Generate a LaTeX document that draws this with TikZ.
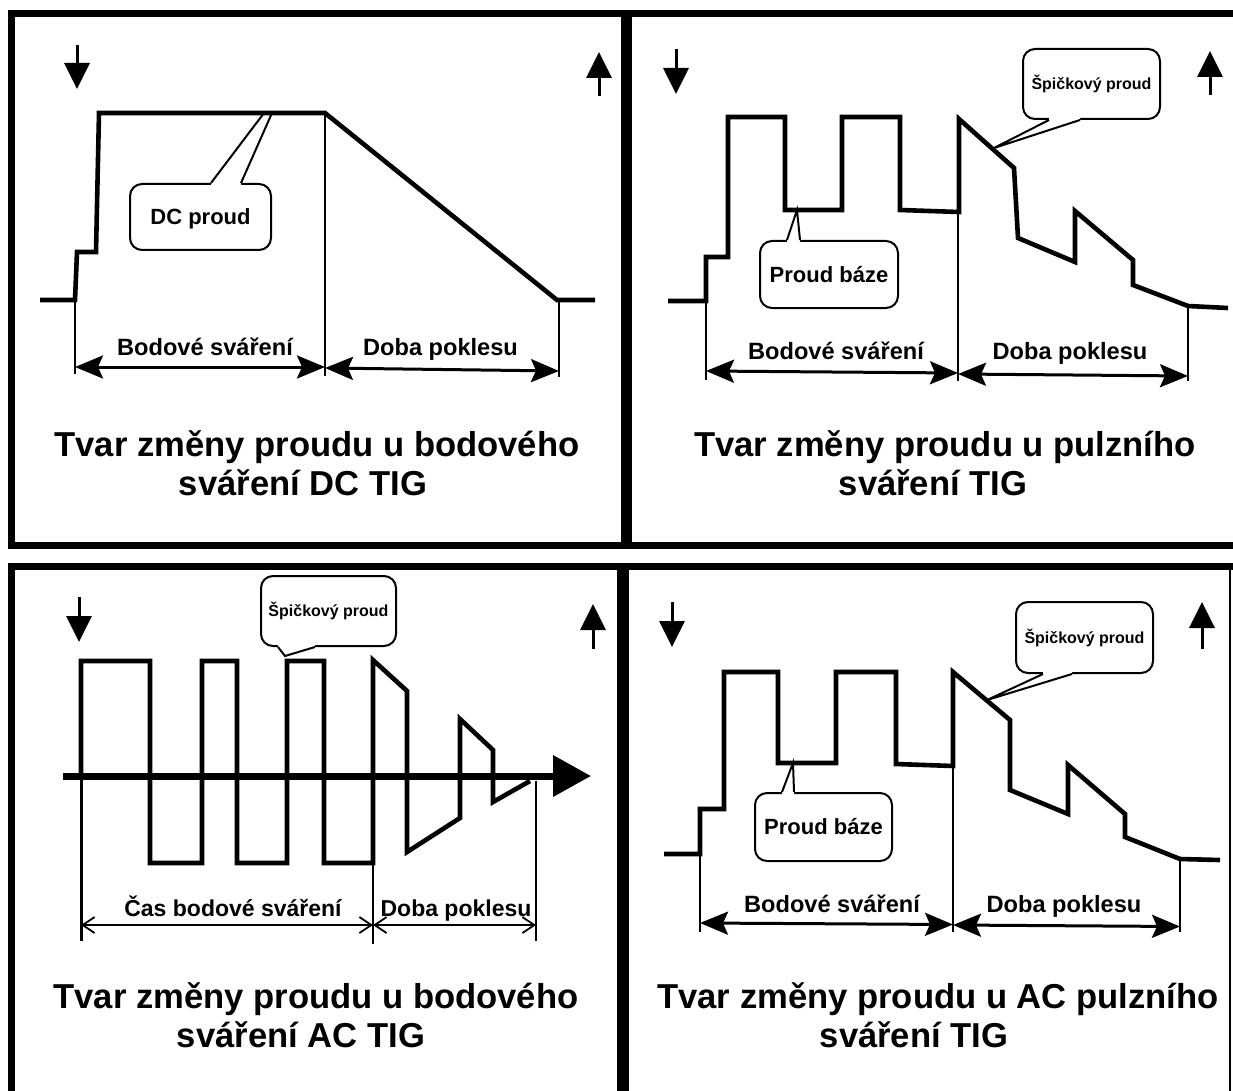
\documentclass[tikz,border=0pt]{standalone}
\usepackage{fontspec}
\setmainfont{Liberation Sans}
\usetikzlibrary{arrows.meta,calc}
\begin{document}
\begin{tikzpicture}[x=1pt,y=-1pt,
  frame/.style={line width=7pt},
  wave/.style={line width=4.6pt},
  guide/.style={line width=2pt},
  dimline/.style={line width=3pt,{Stealth[length=28pt,width=23pt,inset=5pt]}-{Stealth[length=28pt,width=23pt,inset=5pt]}},
  thindim/.style={line width=1.8pt,{Straight Barb[length=12pt,width=16pt]}-{Straight Barb[length=12pt,width=16pt]}},
  indic/.style={line width=3pt,-{Triangle[length=26pt,width=25pt]}},
  callout/.style={draw,line width=2pt,rounded corners=12pt,fill=white,inner sep=0pt},
  calltxt/.style={callout,font=\fontsize{22}{26}\selectfont\bfseries,text height=15.8pt,text depth=0pt},
  callsm/.style={callout,font=\fontsize{16}{19}\selectfont\bfseries,text height=11.5pt,text depth=0pt},
  tail/.style={line width=2pt},
  title/.style={font=\fontsize{34.6}{40}\selectfont\bfseries,anchor=base,inner sep=0pt},
  lab/.style={font=\fontsize{23.6}{28}\selectfont\bfseries,anchor=base,inner sep=0pt},
  labsm/.style={font=\fontsize{23}{28}\selectfont\bfseries,anchor=base,inner sep=0pt},
]
\useasboundingbox (0,0) rectangle (1233,1091);
\fill[white] (0,0) rectangle (1233,1091);

% ---------------- frames ----------------
\draw[frame] (8,13.5) -- (1233,13.5);
\draw[frame] (11.5,10) -- (11.5,548.5);
\draw[frame] (8,545) -- (1233,545);
\draw[line width=11.5pt] (626.5,10) -- (626.5,548.5);
\draw[frame] (8,566.5) -- (1233,566.5);
\draw[frame] (11.5,563) -- (11.5,1091);
\draw[line width=12pt] (623,563) -- (623,1091);
\draw[line width=2pt] (1230,566) -- (1230,1091);

% ================= TOP LEFT =================
\draw[indic] (77,45) -- (77,89);
\draw[indic] (599,96) -- (599,52);
\node[calltxt,minimum width=141pt,minimum height=66pt] (dc) at (200.5,217) {DC proud};
\coordinate (dcb1) at ($(dc.north west)+(82,0)$);
\coordinate (dcb2) at ($(dc.north west)+(112,0)$);
\coordinate (dcp1) at (264,113);
\coordinate (dcp2) at (272,113);
\fill[white] ($(dcb1)+(0,3)$) -- (dcb1) -- (dcp1) -- (dcp2) -- (dcb2) -- ($(dcb2)+(0,3)$) -- cycle;
\draw[tail] (dcb1) -- (dcp1) (dcb2) -- (dcp2);
\draw[wave] (40,300) -- (75,300) -- (77,252) -- (96,252) -- (99,113) -- (325,113) -- (557,300) -- (595,300);
\draw[guide] (75,300) -- (75,374);
\draw[guide] (325,113) -- (325,376);
\draw[guide] (559,300) -- (559,377);
\draw[dimline] (75,367) -- (325,367);
\draw[dimline] (325,368) -- (559,371);
\node[lab] (tlA) at (205,355) {Bodové sváření};
\node[lab] (tlB) at (440.5,355) {Doba poklesu};
\node[title] (tlT1) at (317,456) {Tvar změny proudu u bodového};
\node[title] (tlT2) at (303,495) {sváření DC TIG};

% ================= TOP RIGHT =================
\draw[indic] (676,49) -- (676,94);
\draw[indic] (1210,95) -- (1210,51);
\node[calltxt,minimum width=138pt,minimum height=67pt] (trb) at (829,274.5) {Proud báze};
\coordinate (trb1) at ($(trb.north west)+(28,0)$);
\coordinate (trb2) at ($(trb.north west)+(41,0)$);
\coordinate (trbp) at (797,210);
\fill[white] ($(trb1)+(0,3)$) -- (trb1) -- (trbp) -- (trb2) -- ($(trb2)+(0,3)$) -- cycle;
\draw[tail] (trb1) -- (trbp) -- (trb2);
\node[callsm,minimum width=137pt,minimum height=70pt] (trs) at (1091.5,84) {Špičkový proud};
\coordinate (trs1) at ($(trs.south west)+(27,0)$);
\coordinate (trs2) at ($(trs.south west)+(58,0)$);
\coordinate (trsp) at (994,148);
\fill[white] ($(trs1)+(0,-3)$) -- (trs1) -- (trsp) -- (trs2) -- ($(trs2)+(0,-3)$) -- cycle;
\draw[tail] (trs1) -- (trsp) -- (trs2);
\draw[wave] (668,301) -- (706,301) -- (706,257) -- (728,257) -- (728,117) -- (785,117) -- (785,210) -- (842,210) -- (842,117) -- (900,117) -- (900,210) -- (959,212) -- (959,119) -- (1014,168) -- (1018,238) -- (1075,262) -- (1075,211) -- (1133,260) -- (1133,285) -- (1188,306) -- (1228,308);
\draw[guide] (706,301) -- (706,380);
\draw[guide] (958,212) -- (958,381);
\draw[guide] (1188,306) -- (1188,381);
\draw[dimline] (706,371) -- (958,373);
\draw[dimline] (958,374) -- (1188,376);
\node[lab] (trA) at (836,359) {Bodové sváření};
\node[lab] (trB) at (1070,359) {Doba poklesu};
\node[title] (trT1) at (945,456) {Tvar změny proudu u pulzního};
\node[title] (trT2) at (933,495) {sváření TIG};

% ================= BOTTOM LEFT =================
\draw[indic] (79,597) -- (79,642);
\draw[indic] (593,649) -- (593,604);
\node[callsm,minimum width=135pt,minimum height=70pt] (bls) at (328.5,611) {Špičkový proud};
\coordinate (bls1) at ($(bls.south west)+(18,0)$);
\coordinate (bls2) at ($(bls.south west)+(55,0)$);
\coordinate (blsp) at (285,656);
\fill[white] ($(bls1)+(0,-3)$) -- (bls1) -- (blsp) -- (bls2) -- ($(bls2)+(0,-3)$) -- cycle;
\draw[tail] (bls1) -- (blsp) -- (bls2);
\draw[wave] (81,776) -- (81,661) -- (150,661) -- (150,863) -- (202,863) -- (202,661) -- (237,661) -- (237,863) -- (287,863) -- (287,661) -- (324,661) -- (324,863) -- (373,863) -- (373,660) -- (407,691) -- (407,852) -- (460,818) -- (460,719) -- (493,750) -- (493,802) -- (530,781);
\draw[line width=7pt,-{Triangle[length=38pt,width=40pt]}] (63,776) -- (591,776);
\draw[line width=3pt] (81,776) -- (81,941);
\draw[line width=2.5pt] (373,863) -- (373,944);
\draw[guide] (536,781) -- (536,941);
\draw[thindim] (81,925) -- (373,925);
\draw[thindim] (373,925) -- (536,925);
\node[labsm] (blA) at (233,916) {Čas bodové sváření};
\node[labsm] (blB) at (456,916) {Doba poklesu};
\node[title] (blT1) at (316,1008) {Tvar změny proudu u bodového};
\node[title] (blT2) at (301,1047) {sváření AC TIG};

% ================= BOTTOM RIGHT =================
\draw[indic] (672,602) -- (672,647);
\draw[indic] (1202,649) -- (1202,602);
\node[calltxt,minimum width=137pt,minimum height=68pt] (brb) at (823.5,827) {Proud báze};
\coordinate (brb1) at ($(brb.north west)+(28,0)$);
\coordinate (brb2) at ($(brb.north west)+(40,0)$);
\coordinate (brbp) at (793,763);
\fill[white] ($(brb1)+(0,3)$) -- (brb1) -- (brbp) -- (brb2) -- ($(brb2)+(0,3)$) -- cycle;
\draw[tail] (brb1) -- (brbp) -- (brb2);
\node[callsm,minimum width=137pt,minimum height=71pt] (brs) at (1084.5,637.5) {Špičkový proud};
\coordinate (brs1) at ($(brs.south west)+(28,0)$);
\coordinate (brs2) at ($(brs.south west)+(57,0)$);
\coordinate (brsp) at (987,700);
\fill[white] ($(brs1)+(0,-3)$) -- (brs1) -- (brsp) -- (brs2) -- ($(brs2)+(0,-3)$) -- cycle;
\draw[tail] (brs1) -- (brsp) -- (brs2);
\draw[wave] (664,854) -- (700,854) -- (700,809) -- (724,809) -- (724,672) -- (778,672) -- (778,763) -- (836,763) -- (836,672) -- (896,672) -- (896,764) -- (953,766) -- (953,672) -- (1010,720) -- (1010,790) -- (1068,814) -- (1068,765) -- (1125,814) -- (1125,837) -- (1180,859) -- (1220,860);
\draw[guide] (700,854) -- (700,932);
\draw[guide] (953,766) -- (953,932);
\draw[guide] (1180,859) -- (1180,932);
\draw[dimline] (700,923) -- (953,924.5);
\draw[dimline] (953,925) -- (1180,926.5);
\node[lab] (brA) at (832,912) {Bodové sváření};
\node[lab] (brB) at (1064,912) {Doba poklesu};
\node[title] (brT1) at (938,1008) {Tvar změny proudu u AC pulzního};
\node[title] (brT2) at (914,1047) {sváření TIG};
\end{tikzpicture}
\end{document}
